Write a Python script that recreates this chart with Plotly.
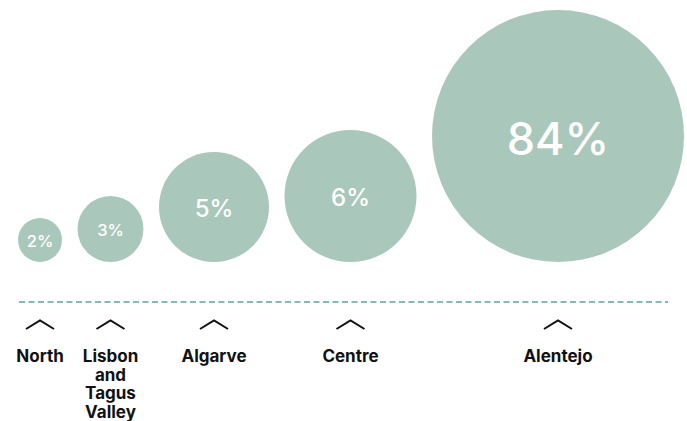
import textwrap
import numpy as np
import plotly.graph_objects as go

# ---- data ----
regions = ["North", "Lisbon and Tagus Valley", "Algarve", "Centre", "Alentejo"]
shares = [2, 3, 5, 6, 84]  # percent

# ---- styles ----
circle_color = "#aac7bb"
dash_color = "#5fa595"
label_sizes = [16.5, 16.5, 24, 24, 45]
FONT = "Inter"
W, H = 687, 421

vals = np.array(shares, dtype=float)
radii = np.minimum(11 * vals, 126)          # clamped linear radius scale
gap = 15.5
left0 = 18
baseline = 262

cx = []
edge = left0
for r in radii:
    cx.append(edge + r)
    edge += 2 * r + gap
cx = np.array(cx)
cy = baseline - radii

fig = go.Figure()

shapes = []
for x, y, r in zip(cx, cy, radii):
    shapes.append(dict(type="circle", xref="x", yref="y",
                       x0=x - r, x1=x + r, y0=y - r, y1=y + r,
                       fillcolor=circle_color, line=dict(width=0), layer="below"))
# dashed baseline
shapes.append(dict(type="line", xref="x", yref="y", x0=19, x1=668, y0=302, y1=302,
                   line=dict(color=dash_color, width=1.3, dash="6px,3.5px")))

# percentage labels (optically centred in the circles)
text_y = cy + 0.17 * np.array(label_sizes)
fig.add_trace(go.Scatter(
    x=cx, y=text_y, mode="text",
    text=[f"{v}%" for v in shares],
    textposition="middle center",
    textfont=dict(family=FONT, size=label_sizes, color="white", weight=500),
    hoverinfo="skip", showlegend=False))

# carets
for x in cx:
    fig.add_trace(go.Scatter(
        x=[x - 14, x, x + 14], y=[329, 320.5, 329], mode="lines",
        line=dict(color="#111111", width=2), hoverinfo="skip", showlegend=False))

# category labels, one text per line so the tight leading of the original is kept
line_step = 18.5
for x, name in zip(cx, regions):
    lines = textwrap.wrap(name, width=6, break_long_words=False)
    fig.add_trace(go.Scatter(
        x=[x] * len(lines), y=[358 + i * line_step for i in range(len(lines))],
        mode="text", text=lines, textposition="middle center",
        textfont=dict(family=FONT, size=17, color="#111111", weight=700),
        hoverinfo="skip", showlegend=False))

fig.update_layout(
    width=W, height=H,
    margin=dict(l=0, r=0, t=0, b=0),
    paper_bgcolor="white", plot_bgcolor="white",
    shapes=shapes,
    xaxis=dict(range=[0, W], visible=False, fixedrange=True),
    yaxis=dict(range=[H, 0], visible=False, fixedrange=True),
)

fig.write_html("out.html")
